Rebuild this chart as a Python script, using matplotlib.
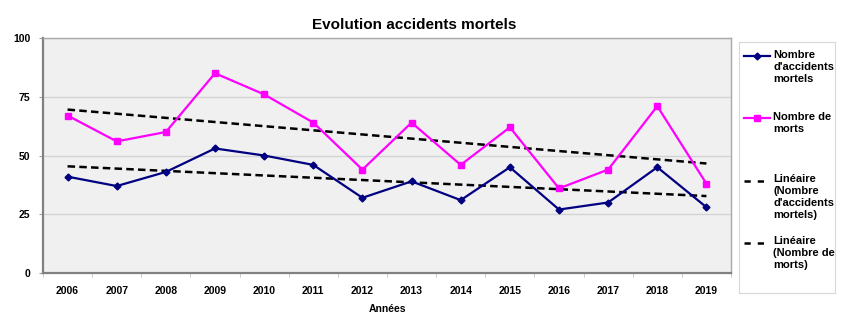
import numpy as np
import matplotlib
matplotlib.use('Agg')
import matplotlib.pyplot as plt

plt.rcParams['font.family'] = ['Liberation Sans', 'DejaVu Sans']

# Data
years = ['2006', '2007', '2008', '2009', '2010', '2011', '2012',
         '2013', '2014', '2015', '2016', '2017', '2018', '2019']
accidents = [41, 37, 43, 53, 50, 46, 32, 39, 31, 45, 27, 30, 45, 28]
morts = [67, 56, 60, 85, 76, 64, 44, 64, 46, 62, 36, 44, 71, 38]
y_ticks = [0, 25, 50, 75, 100]
legend_labels = ["Nombre\nd'accidents\nmortels",
                 "Nombre de\nmorts",
                 "Linéaire\n(Nombre\nd'accidents\nmortels)",
                 "Linéaire\n(Nombre de\nmorts)"]

W, H = 850, 322
fig = plt.figure(figsize=(W / 100, H / 100), dpi=100)
ax = fig.add_axes([43 / W, 1 - 273 / H, (731 - 43) / W, (273 - 38) / H])
ax.set_facecolor('#F0F0F0')

x = np.arange(len(years))

# linear trend lines (Excel style)
acc_fit = np.polyval(np.polyfit(x, accidents, 1), x)
mor_fit = np.polyval(np.polyfit(x, morts, 1), x)
ax.plot(x, acc_fit, color='black', lw=1.8, dashes=[3, 1.7], zorder=3)
ax.plot(x, mor_fit, color='black', lw=1.8, dashes=[3, 1.7], zorder=3)

ax.plot(x, accidents, color='#000080', lw=1.6, marker='D', ms=3.5, zorder=4)
ax.plot(x, morts, color='#FF00FF', lw=1.6, marker='s', ms=4.5, zorder=4)

ax.set_xlim(-0.5, len(years) - 0.5)
ax.set_ylim(0, 100)
ax.set_yticks(y_ticks)
ax.set_yticklabels([str(v) for v in y_ticks], fontsize=7.5, fontweight='bold')
ax.set_xticks(x)
ax.set_xticklabels(years, fontsize=7.5, fontweight='bold')
ax.set_xticks(np.arange(-0.5, len(years), 1), minor=True)
ax.tick_params(axis='x', which='major', length=0, pad=9)
ax.tick_params(axis='x', which='minor', length=3, color='#C0C0C0')
ax.tick_params(axis='y', length=3, color='#A0A0A0', pad=6)
ax.yaxis.grid(True, color='#D3D3D3', lw=1)
ax.set_axisbelow(True)

for s in ['left', 'bottom']:
    ax.spines[s].set_color('#808080')
    ax.spines[s].set_linewidth(1.6)
for s in ['top', 'right']:
    ax.spines[s].set_color('#A8A8A8')
    ax.spines[s].set_linewidth(1.0)

ax.set_xlabel('Années', fontsize=7.5, fontweight='bold', labelpad=6)

fig.text(414 / W, 1 - 25 / H, 'Evolution accidents mortels', ha='center', va='center',
         fontsize=11, fontweight='bold')

# legend box
legend_ax = fig.add_axes([739 / W, 1 - 293 / H, (835 - 739) / W, (293 - 42) / H])
legend_ax.set_xlim(739, 835)
legend_ax.set_ylim(293, 42)
legend_ax.set_xticks([])
legend_ax.set_yticks([])
for s in legend_ax.spines.values():
    s.set_color('#D8D8D8')
    s.set_linewidth(0.8)

styles = [dict(color='#000080', lw=1.6, marker='D', ms=3.5),
          dict(color='#FF00FF', lw=1.6, marker='s', ms=4.5),
          dict(color='black', lw=1.8, dashes=[2.5, 2.8]),
          dict(color='black', lw=1.8, dashes=[2.5, 2.8])]
entry_y = [56, 118, 181, 243]
for lab, st, yy in zip(legend_labels, styles, entry_y):
    if 'marker' in st:
        legend_ax.plot([744, 770], [yy, yy], color=st['color'], lw=st['lw'])
        legend_ax.plot([757], [yy], color=st['color'], marker=st['marker'], ms=st['ms'], lw=0)
    else:
        legend_ax.plot([744, 763.5], [yy, yy], **st)
    legend_ax.text(773, yy - 6.5, lab, ha='left', va='top', fontsize=8, fontweight='bold',
                   linespacing=1.25)

fig.savefig('out.png', dpi=100)
